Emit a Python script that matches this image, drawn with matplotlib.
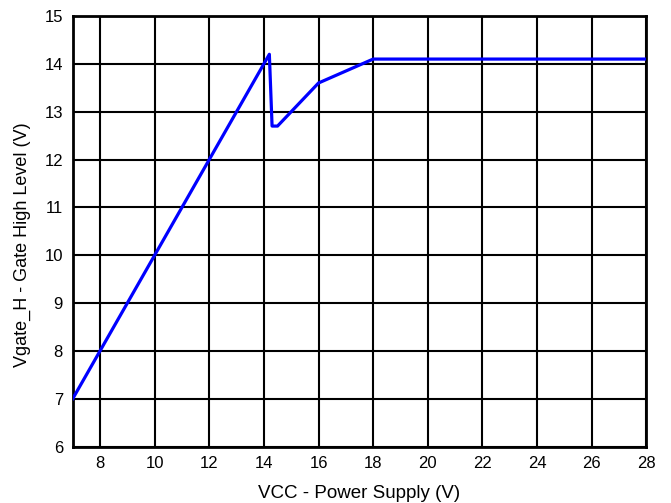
import matplotlib
matplotlib.use("Agg")
import matplotlib.pyplot as plt

plt.rcParams["font.family"] = ["Liberation Sans", "DejaVu Sans"]

# VCC supply (V) vs gate high level (V)
vcc = [7, 14.2, 14.3, 14.5, 16, 18, 28]
vgate = [7, 14.2, 12.7, 12.7, 13.6, 14.1, 14.1]

xticks = [8, 10, 12, 14, 16, 18, 20, 22, 24, 26, 28]
yticks = [6, 7, 8, 9, 10, 11, 12, 13, 14, 15]

fig = plt.figure(figsize=(6.71, 5.03), dpi=100)
ax = fig.add_axes([0.1083, 0.1119, 0.8549, 0.8563])

ax.plot(vcc, vgate, color="#0000FF", lw=2.3, zorder=3)

ax.set_xlim(7, 28)
ax.set_ylim(6, 15)
ax.set_xticks(xticks)
ax.set_yticks(yticks)
ax.tick_params(length=0, labelsize=12, pad=7)
ax.grid(True, color="black", lw=1.5)
for s in ax.spines.values():
    s.set_linewidth(2)
    s.set_color("black")

ax.set_xlabel("VCC - Power Supply (V)", fontsize=13.5, labelpad=10)
ax.set_ylabel("Vgate_H - Gate High Level (V)", fontsize=13)
ax.yaxis.set_label_coords(-0.072, 0.47)

fig.savefig("out.png", dpi=100, facecolor="white")
